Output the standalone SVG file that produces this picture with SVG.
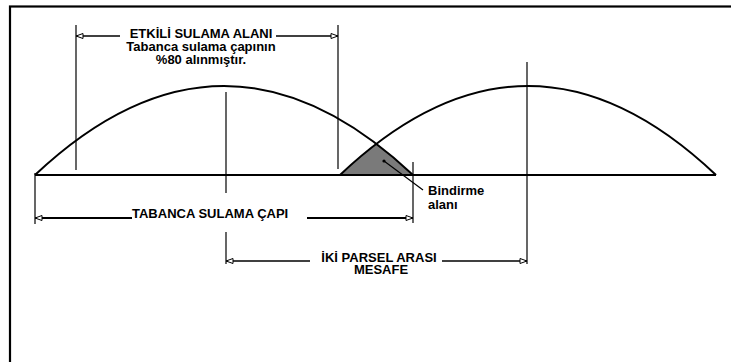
<svg xmlns="http://www.w3.org/2000/svg" width="731" height="362" viewBox="0 0 731 362">
<style>
  .bg{fill:#fff}
  .frame{fill:none;stroke:#000;stroke-width:2.2}
  .arch{fill:none;stroke:#000;stroke-width:2}
  .base{stroke:#000;stroke-width:2;fill:none}
  .ext{stroke:#000;stroke-width:1.2;fill:none}
  .dim{stroke:#000;stroke-width:1.4;fill:none;marker-end:url(#arr)}
  .dimb{stroke:#000;stroke-width:2;fill:none;marker-end:url(#arr)}
  .lead{stroke:#000;stroke-width:1.2;fill:none}
  .t{font-family:"Liberation Sans",Arial,Helvetica,sans-serif;font-weight:bold;font-size:13px;fill:#000}
  .c{text-anchor:middle}
  .overlap{fill:#7a7a7a;stroke:none}
</style>
<defs>
  <marker id="arr" viewBox="-8 -4 9 8" markerWidth="9" markerHeight="8" refX="0" refY="0" orient="auto" markerUnits="userSpaceOnUse">
    <path d="M-7,-2.5 L0,0 L-7,2.5 Z" fill="#fff" stroke="#000" stroke-width="1"/>
  </marker>
  <clipPath id="leftArchClip">
    <path d="M35,175 Q224,-3 413,175 Z"/>
  </clipPath>
</defs>
<rect class="bg" x="0" y="0" width="731" height="362"/>
<g id="frame">
  <rect class="frame" x="10" y="6.5" width="760" height="400"/>
</g>
<g id="overlap">
  <path class="overlap" d="M340,175 Q528,-3 716,175 Z" clip-path="url(#leftArchClip)"/>
</g>
<g id="arch-left">
  <path class="arch" d="M35,175 Q224,-3 413,175"/>
</g>
<g id="arch-right">
  <path class="arch" d="M340,175 Q528,-3 716,175"/>
</g>
<g id="connectors">
  <line class="base" x1="35" y1="175" x2="716" y2="175"/>
  <line class="ext" x1="76" y1="25" x2="76" y2="170"/>
  <line class="ext" x1="338" y1="25" x2="338" y2="169"/>
  <line class="ext" x1="226" y1="92" x2="226" y2="193"/>
  <line class="ext" x1="226" y1="232" x2="226" y2="264"/>
  <line class="ext" x1="527" y1="62" x2="527" y2="264"/>
  <line class="ext" x1="35" y1="173" x2="35" y2="224"/>
  <line class="ext" x1="413" y1="162" x2="413" y2="223"/>
  <path class="lead" d="M384,161 L423,190"/>
  <circle cx="384" cy="161" r="1.6" fill="#000"/>
</g>
<g id="dim-etkili">
  <path class="dim" d="M120,36 L76,36"/>
  <path class="dim" d="M276,36 L338,36"/>
  <text class="t c" x="201" y="38">ETKİLİ SULAMA ALANI</text>
  <text class="t c" x="201" y="50.5">Tabanca sulama çapının</text>
  <text class="t c" x="201" y="63.5">%80 alınmıştır.</text>
</g>
<g id="dim-tabanca">
  <path class="dimb" d="M132,218 L35,218"/>
  <path class="dimb" d="M307,218 L413,218"/>
  <text class="t" x="132" y="217.5">TABANCA SULAMA ÇAPI</text>
</g>
<g id="dim-iki-parsel">
  <path class="dim" d="M310,261 L226,261"/>
  <path class="dim" d="M442,261 L527,261"/>
  <text class="t c" x="379" y="261.5">İKİ PARSEL ARASI</text>
  <text class="t c" x="381" y="274">MESAFE</text>
</g>
<g id="label-bindirme">
  <text class="t" x="428" y="195">Bindirme</text>
  <text class="t" x="428" y="208.5">alanı</text>
</g>
</svg>
